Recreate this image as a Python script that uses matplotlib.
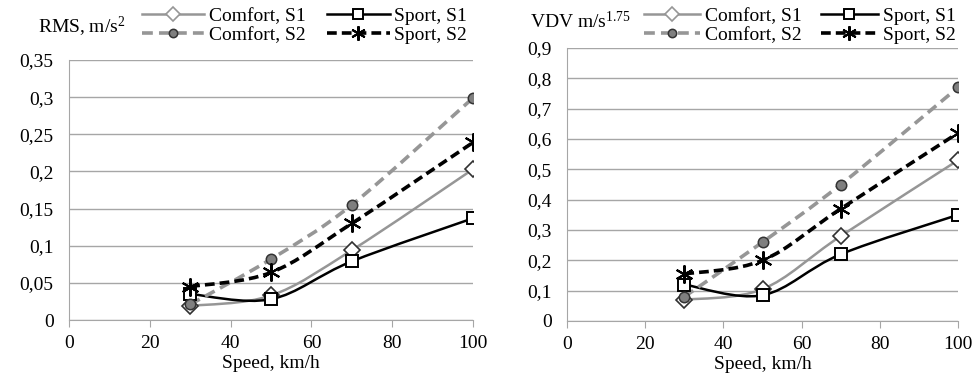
import numpy as np
import matplotlib
matplotlib.use("Agg")
import matplotlib.pyplot as plt
from matplotlib.path import Path
from matplotlib.patches import PathPatch
from matplotlib.lines import Line2D

plt.rcParams['font.family'] = ['Liberation Serif', 'DejaVu Serif']
plt.rcParams['mathtext.fontset'] = 'custom'
plt.rcParams['mathtext.rm'] = 'Liberation Serif'
plt.rcParams['mathtext.it'] = 'Liberation Serif'

speed = [30, 50, 70, 100]

rms_comfort_s1 = [0.019, 0.033, 0.094, 0.203]
rms_sport_s1 = [0.035, 0.028, 0.079, 0.137]
rms_comfort_s2 = [0.021, 0.082, 0.155, 0.299]
rms_sport_s2 = [0.045, 0.064, 0.130, 0.239]

vdv_comfort_s1 = [0.07, 0.105, 0.28, 0.53]
vdv_sport_s1 = [0.12, 0.085, 0.22, 0.35]
vdv_comfort_s2 = [0.08, 0.26, 0.45, 0.77]
vdv_sport_s2 = [0.155, 0.20, 0.37, 0.62]

labels = ["Comfort, S1", "Sport, S1", "Comfort, S2", "Sport, S2"]

GRAY = "#969696"
FS = 14
styles = [
    dict(color=GRAY, lw=1.8, dashes=None, marker="D", ms=8.5, mfc="white", mec="#303030", mew=1.2),
    dict(color="black", lw=1.8, dashes=None, marker="s", ms=9, mfc="white", mec="black", mew=1.4),
    dict(color=GRAY, lw=2.6, dashes=(3, 1.7), marker="o", ms=7.5, mfc="#7f7f7f", mec="#333333", mew=1.1),
    dict(color="black", lw=2.6, dashes=(2.7, 1.4), marker=(6, 2, 0), ms=13, mfc="black", mec="black", mew=1.5),
]


def smooth_path(x, y):
    # Excel-style smoothed line: Catmull-Rom turned into cubic bezier segments
    p = np.column_stack([x, y]).astype(float)
    n = len(p)
    verts = [p[0]]
    codes = [Path.MOVETO]
    for i in range(n - 1):
        p0 = p[i - 1] if i > 0 else p[i]
        p1 = p[i]
        p2 = p[i + 1]
        p3 = p[i + 2] if i + 2 < n else p[i + 1]
        c1 = p1 + (p2 - p0) / 6.0
        c2 = p2 - (p3 - p1) / 6.0
        verts += [c1, c2, p2]
        codes += [Path.CURVE4] * 3
    return Path(verts, codes)


def draw_panel(ax, series, ymax, ystep, yfmt, leg_x, hl, cs):
    for i, (vals, st) in enumerate(zip(series, styles)):
        patch = PathPatch(smooth_path(speed, vals), facecolor="none", edgecolor=st["color"],
                          lw=st["lw"], zorder=3 + i, capstyle="butt")
        if st["dashes"]:
            patch.set_linestyle((0, st["dashes"]))
        ax.add_patch(patch)
        ax.plot(speed, vals, ls="none", marker=st["marker"], ms=st["ms"], mfc=st["mfc"],
                mec=st["mec"], mew=st["mew"], zorder=10 + i)
    ax.set_xlim(0, 100)
    ax.set_ylim(0, ymax)
    ax.set_xticks(np.arange(0, 101, 20))
    yt = np.arange(0, ymax + ystep / 2, ystep)
    ax.set_yticks(yt)
    ax.set_yticklabels([yfmt(v) for v in yt])
    ax.grid(axis="y", color="#a6a6a6", lw=1.0)
    ax.set_axisbelow(True)
    for s in ["top", "right"]:
        ax.spines[s].set_visible(False)
    ax.spines["left"].set_color("#a6a6a6")
    ax.spines["bottom"].set_color("#a6a6a6")
    ax.tick_params(axis="y", length=0, labelsize=FS, pad=11)
    ax.tick_params(axis="x", length=5, color="#a6a6a6", labelsize=FS, direction="out", pad=6)
    ax.set_xlabel("Speed, km/h", fontsize=FS, labelpad=2)

    handles = []
    for st in styles:
        h = Line2D([], [], color=st["color"], lw=st["lw"], marker=st["marker"],
                   ms=st["ms"] * 0.8, mfc=st["mfc"], mec=st["mec"] if st["mfc"] != "white" else st["color"],
                   mew=st["mew"])
        if st["dashes"]:
            h.set_dashes(st["dashes"])
        handles.append(h)
    order = [0, 2, 1, 3]
    fig.legend([handles[i] for i in order], [labels[i] for i in order], ncol=2,
               loc="center left", bbox_to_anchor=(leg_x, 0.9325), frameon=False, fontsize=FS,
               handlelength=hl, handletextpad=0.25, columnspacing=cs, labelspacing=0.08,
               borderpad=0, borderaxespad=0)


fig = plt.figure(figsize=(9.8, 3.78), dpi=100)
ax1 = fig.add_axes([0.0704, 0.1534, 0.4123, 0.6879])
ax2 = fig.add_axes([0.5786, 0.1508, 0.3990, 0.7222])

draw_panel(ax1, [rms_comfort_s1, rms_sport_s1, rms_comfort_s2, rms_sport_s2], 0.35, 0.05,
           lambda v: "0" if v == 0 else ("%g" % round(v, 2)).replace(".", ","), 0.145, 3.2, 1.1)
draw_panel(ax2, [vdv_comfort_s1, vdv_sport_s1, vdv_comfort_s2, vdv_sport_s2], 0.9, 0.1,
           lambda v: "0" if v == 0 else ("%.1f" % v).replace(".", ","), 0.657, 2.9, 1.0)

fig.text(38 / 980, 1 - 27 / 378, "RMS, m/s$^2$", fontsize=FS, ha="left", va="center")
fig.text(530 / 980, 1 - 21 / 378, "VDV m/s$^{1.75}$", fontsize=FS, ha="left", va="center")

fig.savefig("out.png", dpi=100)
